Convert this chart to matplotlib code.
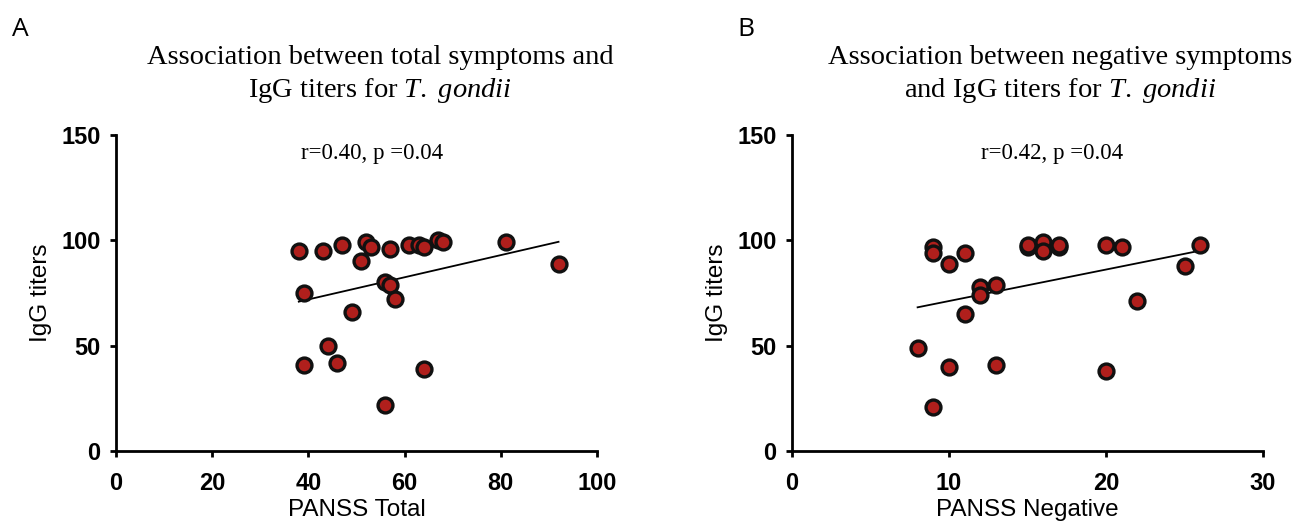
import matplotlib
matplotlib.use("Agg")
import matplotlib.pyplot as plt

# Panel A data: PANSS Total vs IgG titers
total_x = [38, 43, 47, 52, 53, 57, 61, 63, 64, 67, 68, 81, 92, 51, 39, 56, 57, 58, 49, 44, 39, 46, 64, 56]
total_y = [95, 95, 98, 99, 97, 96, 98, 98, 97, 100, 99, 99, 89, 90, 75, 80, 79, 72, 66, 50, 41, 42, 39, 22]
total_fit_x = [38, 92]
total_fit_y = [70.9, 99.3]

# Panel B data: PANSS Negative vs IgG titers
neg_x = [9, 9, 10, 11, 15, 15, 16, 16, 17, 17, 20, 21, 26, 25, 22, 12, 12, 13, 11, 8, 10, 13, 20, 9]
neg_y = [97, 94, 89, 94, 97, 98, 99, 95, 97, 98, 98, 97, 98, 88, 71, 78, 74, 79, 65, 49, 40, 41, 38, 21]
neg_fit_x = [8, 26]
neg_fit_y = [68.2, 95.1]

titles = ["Association between total symptoms and\nIgG titers for $\\it{T.\\ gondii}$",
          "Association between negative symptoms\nand IgG titers for $\\it{T.\\ gondii}$"]
stats = ["r=0.40, p =0.04", "r=0.42, p =0.04"]
xlabels = ["PANSS Total", "PANSS Negative"]
panel_labels = ["A", "B"]
xticks_list = [[0, 20, 40, 60, 80, 100], [0, 10, 20, 30]]
yticks = [0, 50, 100, 150]

plt.rcParams['mathtext.fontset'] = 'custom'
plt.rcParams['mathtext.it'] = 'Liberation Serif:italic'
plt.rcParams['mathtext.rm'] = 'Liberation Serif'

fig = plt.figure(figsize=(13.03, 5.27), dpi=100)
W, H = 1303, 527
axes_px = [(116, 597), (792, 1263)]
top_px, bot_px = 135, 451

datasets = [(total_x, total_y, total_fit_x, total_fit_y, 100),
            (neg_x, neg_y, neg_fit_x, neg_fit_y, 30)]
title_cx = [380, 1060]
stat_cx = [372, 1052]
label_px = [(12, 29), (737, 29)]

for i, (xs, ys, fx, fy, xmax) in enumerate(datasets):
    l, r = axes_px[i]
    ax = fig.add_axes([l / W, (H - bot_px) / H, (r - l) / W, (bot_px - top_px) / H])
    ax.set_xlim(0, xmax)
    ax.set_ylim(0, 150)
    ax.plot(fx, fy, color='black', lw=1.3, zorder=2)
    ax.scatter(xs, ys, s=115, facecolor='#b01f1c', edgecolor='#111111', linewidth=2.4, zorder=3, clip_on=False)
    for side in ['top', 'right']:
        ax.spines[side].set_visible(False)
    for side in ['left', 'bottom']:
        ax.spines[side].set_linewidth(2.0)
    ax.tick_params(direction='out', length=4.5, width=2.0)
    ax.tick_params(axis='x', pad=10.5)
    ax.tick_params(axis='y', pad=6.5)
    ax.set_xticks(xticks_list[i])
    ax.set_yticks(yticks)
    for lab in ax.get_xticklabels() + ax.get_yticklabels():
        lab.set_fontfamily('Liberation Sans')
        lab.set_fontweight('bold')
        lab.set_fontsize(17)
    ax.set_xlabel(xlabels[i], fontfamily='Liberation Sans', fontsize=17.5, labelpad=3)
    ax.set_ylabel("IgG titers", fontfamily='Liberation Sans', fontsize=17.5, labelpad=7)
    fig.text(stat_cx[i] / W, 1 - 153 / H, stats[i], fontfamily='Liberation Serif', fontsize=16.5,
             ha='center', va='center')
    fig.text(title_cx[i] / W, 1 - 75 / H, titles[i], fontfamily='Liberation Serif', fontsize=20.5,
             ha='center', va='center', linespacing=1.33)
    fig.text(label_px[i][0] / W, 1 - label_px[i][1] / H, panel_labels[i], fontfamily='Open Sans',
             fontsize=19, ha='left', va='center')

fig.savefig("out.png", dpi=100)
